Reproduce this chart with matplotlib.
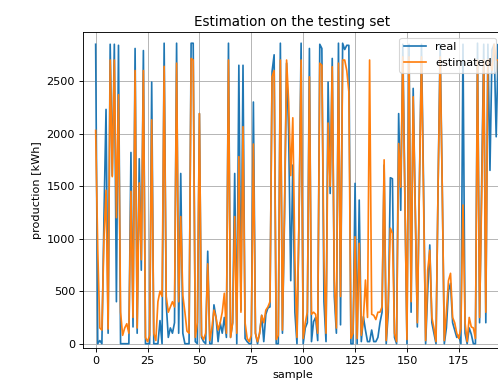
import matplotlib
matplotlib.use("Agg")
import matplotlib.pyplot as plt
import numpy as np

# Daily production on the held-out samples: measured vs. model output [kWh]
real = [
    2850, 0, 30, 0, 1200, 2230, 100, 2850, 1600, 2850,
    400, 2840, 0, 0, 0, 0, 0, 1820, 160, 2810,
    100, 1760, 700, 2790, 0, 0, 0, 2490, 0, 0,
    0, 220, 0, 2860, 380, 60, 150, 100, 200, 2860,
    100, 1620, 100, 0, 0, 0, 2860, 2860, 20, 0,
    2190, 60, 20, 0, 880, 0, 0, 370, 250, 20,
    200, 100, 250, 60, 2860, 60, 200, 1620, 0, 2650,
    320, 2650, 50, 20, 0, 0, 2300, 100, 0, 100,
    270, 20, 280, 340, 350, 2590, 2750, 0, 0, 2860,
    100, 1200, 2670, 2000, 600, 1700, 300, 0, 1200, 2860,
    0, 150, 200, 2810, 20, 210, 250, 30, 2850, 2810,
    400, 20, 2490, 1430, 2715, 450, 100, 2860, 180, 2860,
    2800, 2840, 2840, 0, 0, 1526, 0, 1367, 20, 257,
    130, 20, 20, 130, 20, 20, 60, 200, 300, 1700,
    0, 300, 1580, 1570, 60, 0, 2190, 1270, 2850, 1400,
    0, 2850, 300, 2430, 1300, 160, 1500, 2850, 1500, 0,
    500, 940, 200, 100, 0, 1500, 2850, 1500, 0, 150,
    500, 575, 200, 130, 60, 80, 0, 2850, 100, 0,
    150, 90, 0, 0, 2860, 200, 1550, 2850, 200, 2850,
    1650, 2800, 2850, 1970, 2850, 2000,
]

estimated = [
    2030, 900, 150, 130, 1000, 1460, 140, 2700, 1590, 2700,
    1200, 2370, 300, 80, 150, 190, 100, 1450, 250, 2600,
    150, 1530, 800, 2600, 60, 20, 80, 2130, 100, 30,
    400, 500, 450, 2640, 450, 300, 350, 400, 350, 2670,
    400, 1210, 460, 300, 120, 100, 2715, 2700, 60, 200,
    2190, 80, 40, 100, 760, 30, 150, 320, 250, 130,
    200, 300, 480, 100, 2700, 60, 200, 1210, 100, 1780,
    300, 2065, 200, 50, 20, 80, 1900, 100, 20, 100,
    270, 200, 320, 350, 400, 2540, 2600, 40, 80, 2700,
    130, 1300, 2700, 2300, 1600, 2150, 800, 60, 1200, 2700,
    50, 200, 300, 2540, 280, 300, 280, 100, 2670, 2650,
    800, 100, 2100, 1500, 2636, 600, 150, 2670, 450, 2700,
    2700, 2600, 2400, 50, 100, 1018, 50, 955, 80, 230,
    606, 250, 2700, 280, 270, 230, 300, 300, 350, 1750,
    30, 400, 1100, 1050, 100, 20, 1905, 1490, 2730, 1400,
    40, 2730, 400, 2350, 1300, 200, 1500, 2730, 1400, 30,
    700, 890, 250, 150, 20, 1500, 2730, 1500, 30, 300,
    600, 670, 250, 200, 100, 50, 150, 1320, 200, 20,
    250, 160, 150, 50, 2700, 250, 1400, 2700, 300, 2700,
    2700, 2600, 2850, 2700, 2700, 2000,
]

W, H, DPI = 498, 383, 81
fig = plt.figure(figsize=(W / DPI, H / DPI), dpi=DPI)

# axes box in pixels: left, top, right, bottom (right edge runs just past the canvas)
left, top, right, bottom = 83, 32.3, 502, 347.7
ax = fig.add_axes([left / W, 1 - bottom / H, (right - left) / W, (bottom - top) / H])

sample = np.arange(len(real))
ax.plot(sample, real, color="#1f77b4", lw=1.5, label="real")
ax.plot(sample, estimated, color="#ff7f0e", lw=1.5, label="estimated")

ax.set_xlim(-6.1, 195.8)
ax.set_ylim(-38, 2964)
ax.set_xticks(np.arange(0, 176, 25))
ax.set_yticks(np.arange(0, 2501, 500))
ax.grid(True)

ax.set_title("Estimation on the testing set")
ax.set_xlabel("sample")
ax.set_ylabel("production [kWh]")
ax.legend(loc="upper right")

fig.savefig("out.png", dpi=DPI)
